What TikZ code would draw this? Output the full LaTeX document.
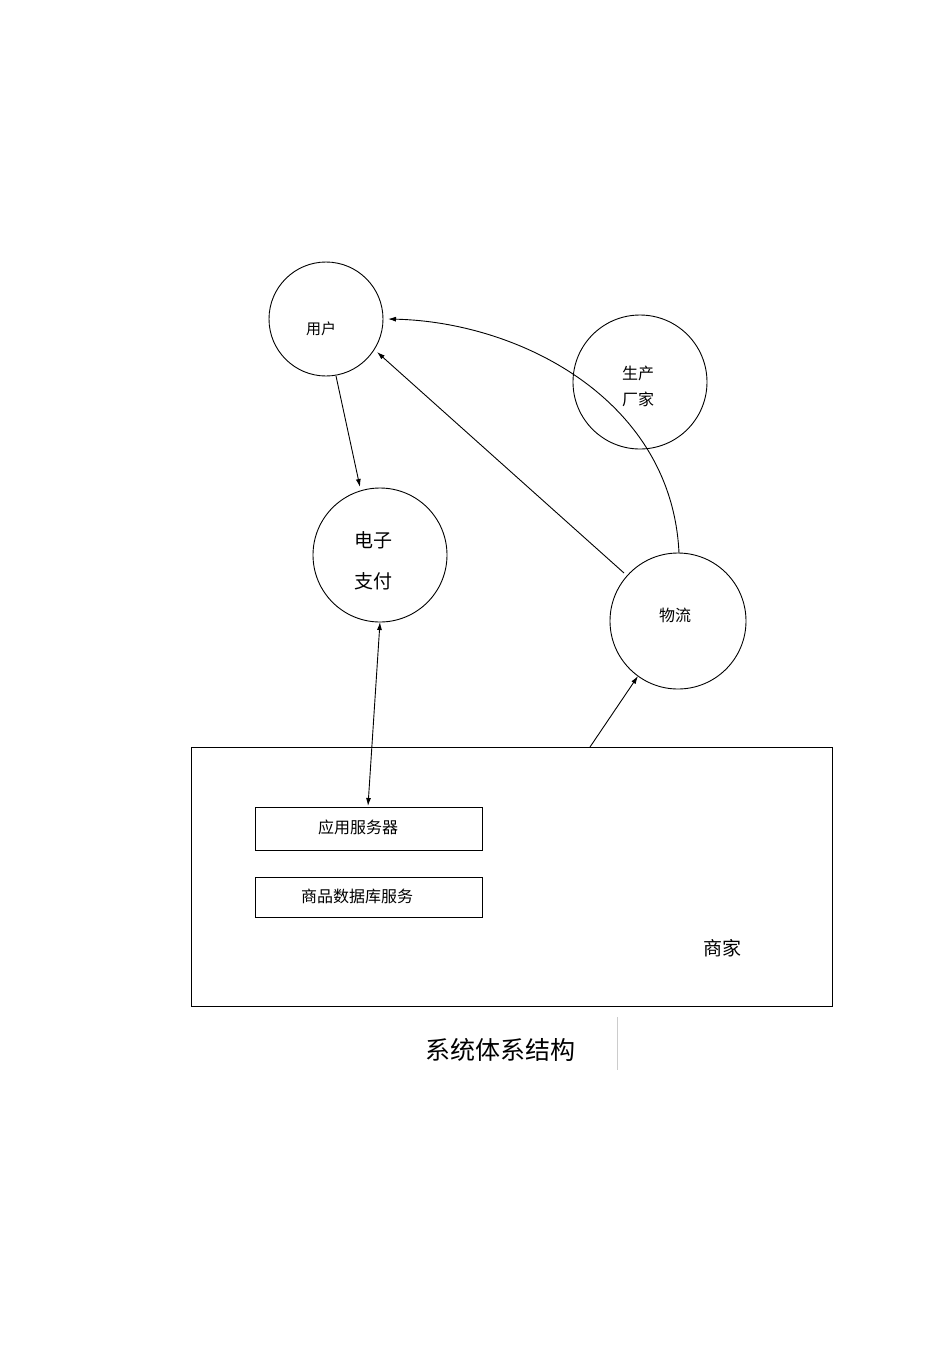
\documentclass[tikz,border=0pt]{standalone}
\usepackage{fontspec}
\setmainfont{Noto Sans CJK SC}
\usetikzlibrary{arrows.meta}
\begin{document}
\begin{tikzpicture}[x=1pt,y=-1pt,
  circ/.style={draw,circle,line width=0.9pt},
  box/.style={draw,line width=0.9pt,anchor=north west},
  arr/.style={-{Latex[length=8pt,width=5pt]},line width=0.9pt}]
\useasboundingbox (0,0) rectangle (950,1345);
\node[circ,minimum size=114pt] (u) at (326,319) {};
\node[font=\fontsize{15}{18}\selectfont] at (321,329) {用户};
\node[circ,minimum size=134pt] (p) at (380,555) {};
\node[font=\fontsize{19}{25}\selectfont,align=center] at (373,561) {电子\\[16pt]支付};
\node[circ,minimum size=134pt] (m) at (640,382) {};
\node[font=\fontsize{16}{26}\selectfont,align=center] at (638,386) {生产\\厂家};
\node[circ,minimum size=136pt] (w) at (678,621) {};
\node[font=\fontsize{16}{20}\selectfont] at (675,615) {物流};
\draw[line width=0.9pt] (191,747) rectangle (832,1006);
\coordinate (s) at (590,747);
\node[box,minimum width=227pt,minimum height=43pt] (a) at (255,807) {};
\node[font=\fontsize{16}{20}\selectfont] at (358,827) {应用服务器};
\node[box,minimum width=227pt,minimum height=40pt] (d) at (255,877) {};
\node[font=\fontsize{16}{20}\selectfont] at (357,896) {商品数据库服务};
\node[font=\fontsize{19}{24}\selectfont] at (722,948) {商家};
\node[font=\fontsize{25}{30}\selectfont] at (500,1050) {系统体系结构};
\draw[gray!40,line width=0.6pt] (617,1017) -- (617,1070);
\draw[arr] (336,376) -- (360,487);
\draw[arr] (624,573) -- (377,352);
\draw[arr] (679,553) .. controls (672,400) and (520,322) .. (388,319);
\draw[arr,{Latex[length=8pt,width=5pt]}-{Latex[length=8pt,width=5pt]}] (380,622) -- (368,806);
\draw[arr] (s) -- (638,676);
\end{tikzpicture}
\end{document}
